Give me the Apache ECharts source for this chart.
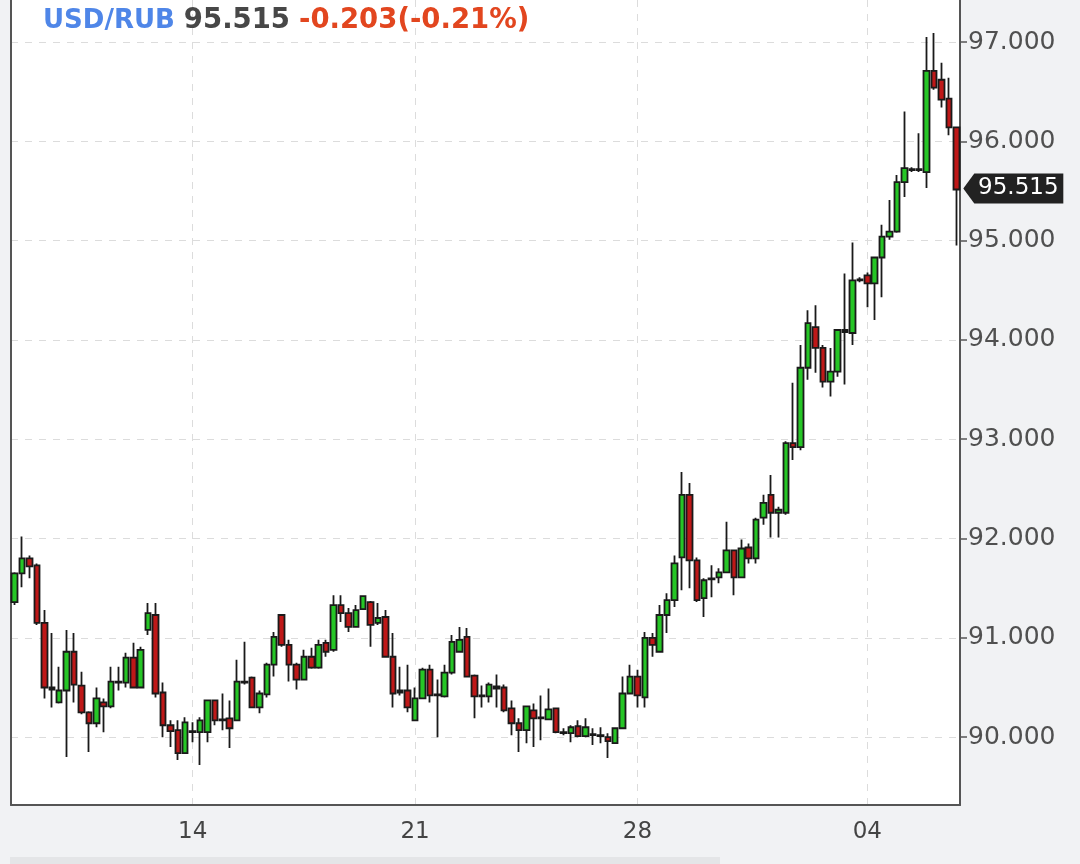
<!DOCTYPE html>
<html>
<head>
<meta charset="utf-8">
<title>USD/RUB</title>
<script src="https://cdn.jsdelivr.net/npm/echarts@6/dist/echarts.min.js"></script>
<style>
  html, body { margin: 0; padding: 0; background: #f1f2f4; }
  #chart { width: 1080px; height: 864px; }
</style>
</head>
<body>
<div id="chart"></div>
<script>
// 4h candles
const open = [91.36,91.65,91.80,91.73,91.15,90.50,90.35,90.47,90.86,90.52,
  90.25,90.14,90.35,90.31,90.56,90.55,90.80,90.50,91.08,91.23,
  90.45,90.12,90.07,89.84,90.06,90.05,90.05,90.37,90.17,90.19,
  90.17,90.56,90.60,90.30,90.43,90.73,91.23,90.93,90.73,90.58,
  90.81,90.70,90.95,90.88,91.33,91.25,91.11,91.29,91.36,91.15,
  91.21,90.81,90.45,90.47,90.17,90.39,90.68,90.42,90.41,90.65,
  90.86,91.01,90.62,90.41,90.41,90.51,90.50,90.29,90.14,90.07,
  90.27,90.19,90.18,90.29,90.05,90.04,90.11,90.01,90.03,90.02,
  90.00,89.94,90.09,90.44,90.61,90.40,91.00,90.86,91.23,91.38,
  91.81,92.44,91.78,91.40,91.59,91.61,91.66,91.88,91.61,91.91,
  91.80,92.21,92.44,92.26,92.26,92.96,92.92,93.72,94.13,93.92,
  93.58,93.68,94.10,94.07,94.60,94.65,94.57,94.83,95.04,95.09,
  95.59,95.72,95.71,95.69,96.71,96.62,96.43,96.14];
const close = [91.65,91.80,91.72,91.15,90.50,90.48,90.47,90.86,90.53,90.25,
  90.14,90.39,90.31,90.56,90.55,90.80,90.50,90.88,91.25,90.44,
  90.12,90.06,89.84,90.15,90.05,90.17,90.37,90.17,90.18,90.09,
  90.56,90.55,90.30,90.44,90.73,91.01,90.93,90.73,90.58,90.81,
  90.70,90.93,90.86,91.33,91.25,91.11,91.28,91.42,91.13,91.20,
  90.81,90.44,90.47,90.30,90.39,90.68,90.42,90.43,90.65,90.96,
  90.98,90.61,90.41,90.42,90.53,90.49,90.27,90.14,90.07,90.31,
  90.19,90.20,90.28,90.05,90.04,90.10,90.01,90.10,90.02,90.01,
  89.96,90.09,90.44,90.61,90.42,91.00,90.93,91.23,91.38,91.75,
  92.44,91.78,91.38,91.58,91.60,91.66,91.88,91.61,91.90,91.80,
  92.19,92.36,92.26,92.29,92.96,92.92,93.72,94.17,93.92,93.58,
  93.68,94.10,94.08,94.60,94.61,94.57,94.83,95.04,95.09,95.59,
  95.73,95.71,95.72,96.71,96.54,96.42,96.14,95.515];
const low = [91.33,91.51,91.60,91.13,90.39,90.30,90.34,89.80,90.35,90.23,
  89.85,90.10,90.05,90.29,90.47,90.50,90.49,90.49,91.03,90.40,
  90.00,89.90,89.77,89.84,89.95,89.72,89.95,90.12,90.07,89.89,
  90.17,90.53,90.29,90.24,90.40,90.61,90.91,90.56,90.48,90.57,
  90.69,90.69,90.81,90.86,91.16,91.06,91.11,91.28,90.91,91.13,
  90.80,90.30,90.42,90.25,90.17,90.39,90.35,90.00,90.40,90.63,
  90.85,90.61,90.19,90.30,90.35,90.30,90.25,90.02,89.85,89.94,
  89.90,89.97,90.17,90.04,90.02,89.95,90.00,90.00,89.92,89.94,
  89.79,89.94,90.09,90.44,90.30,90.30,90.81,90.85,91.05,91.31,
  91.48,91.50,91.36,91.21,91.41,91.55,91.66,91.43,91.60,91.75,
  91.75,92.14,92.01,92.01,92.24,92.79,92.89,93.60,93.67,93.52,
  93.43,93.63,93.55,93.95,94.58,94.33,94.20,94.43,95.01,95.08,
  95.44,95.69,95.69,95.53,96.52,96.34,96.06,94.95];
const high = [91.66,92.02,91.83,91.75,91.28,91.05,90.71,91.08,91.05,90.66,
  90.26,90.50,90.39,90.71,90.71,90.85,90.95,90.91,91.35,91.35,
  90.55,90.17,90.17,90.20,90.15,90.20,90.38,90.38,90.44,90.37,
  90.78,90.96,90.61,90.47,90.75,91.06,91.24,90.98,90.75,90.88,
  90.90,90.98,90.98,91.43,91.43,91.30,91.33,91.43,91.37,91.35,
  91.28,91.05,90.71,90.73,90.50,90.70,90.73,90.58,90.73,91.03,
  91.11,91.10,90.63,90.52,90.55,90.63,90.53,90.37,90.19,90.31,
  90.34,90.42,90.49,90.30,90.09,90.12,90.17,90.19,90.09,90.10,
  90.04,90.10,90.61,90.73,90.68,91.06,91.05,91.33,91.45,91.83,
  92.67,92.56,91.81,91.60,91.73,91.70,92.17,91.89,91.99,91.95,
  92.21,92.44,92.64,92.32,92.98,93.57,93.95,94.30,94.35,93.95,
  93.92,94.10,94.67,94.98,94.63,94.68,94.83,95.16,95.41,95.66,
  96.30,95.74,96.08,97.05,97.09,96.79,96.64,96.15];

// x labels sit on these candles
const dayIdx = [24, 54, 84, 115];
const dayText = ["14", "21", "28", "04"];

const yTicks = [90, 91, 92, 93, 94, 95, 96, 97];
const yMin = 89.317;
const yMax = 97.423;

const pair = "USD/RUB";
const lastPrice = 95.515;
const change = -0.203;
const changePct = -0.21;

const cats = open.map((_, i) => String(i));
const ohlc = open.map((o, i) => [o, close[i], low[i], high[i]]);
const isDay = (i) => dayIdx.indexOf(i) >= 0;

const dash = { color: "#dcdcdc", width: 1, type: [7, 7] };

let myChart = echarts.init(document.getElementById("chart"));

myChart.setOption({
  animation: false,
  backgroundColor: "#f1f2f4",
  title: {
    left: 38,
    top: 2,
    text:
      "{a|" + pair + "} {b|" + lastPrice.toFixed(3) + "} {c|" +
      change.toFixed(3) + "(" + changePct.toFixed(2) + "%)}",
    textStyle: {
      rich: {
        a: { color: "#4f86e8", fontSize: 26, fontWeight: "bold", fontFamily: "DejaVu Sans" },
        b: { color: "#474747", fontSize: 27.5, fontWeight: "bold", fontFamily: "DejaVu Sans", padding: [0, 0, 0, 4] },
        c: { color: "#e2461f", fontSize: 27.5, fontWeight: "bold", fontFamily: "DejaVu Sans", padding: [0, 0, 0, 4] },
      },
    },
  },
  grid: {
    left: 11,
    right: 120,
    top: 0,
    bottom: 59,
    show: true,
    backgroundColor: "#fff",
    borderWidth: 0,
  },
  xAxis: {
    type: "category",
    data: cats,
    boundaryGap: true,
    axisLine: { lineStyle: { color: "#555", width: 2 } },
    axisTick: {
      alignWithLabel: true,
      interval: (i) => isDay(i),
      length: 6,
      lineStyle: { color: "#555", width: 1.5 },
    },
    axisLabel: {
      interval: (i) => isDay(i),
      formatter: (v, i) => dayText[dayIdx.indexOf(i)] || "",
      color: "#444",
      fontSize: 23,
      fontFamily: "DejaVu Sans",
      margin: 16,
    },
    splitLine: {
      show: true,
      alignWithLabel: true,
      interval: (i) => isDay(i),
      lineStyle: dash,
    },
  },
  yAxis: [
    {
      type: "value",
      position: "right",
      min: yMin,
      max: yMax,
      splitNumber: 8,
      axisLine: { show: true, lineStyle: { color: "#555", width: 2 } },
      axisTick: {
        show: true,
        customValues: yTicks,
        length: 7,
        lineStyle: { color: "#555", width: 1.5 },
      },
      axisLabel: {
        customValues: yTicks,
        formatter: (v) => v.toFixed(3),
        color: "#505050",
        fontSize: 25,
        fontFamily: "DejaVu Sans",
        margin: 8,
      },
      splitLine: { show: true, lineStyle: dash },
    },
    {
      type: "value",
      position: "left",
      min: yMin,
      max: yMax,
      axisLine: { show: true, lineStyle: { color: "#555", width: 2 } },
      axisTick: { show: false },
      axisLabel: { show: false },
      splitLine: { show: false },
    },
  ],
  graphic: [
    {
      type: "rect",
      left: 10,
      top: 857,
      shape: { width: 710, height: 7 },
      style: { fill: "#e4e5e7" },
    },
  ],
  series: [
    {
      name: pair,
      type: "candlestick",
      yAxisIndex: 0,
      data: ohlc,
      barWidth: 6,
      itemStyle: {
        color: "#26c626",
        color0: "#bf1818",
        borderColor: "#1a1a1a",
        borderColor0: "#1a1a1a",
        borderColorDoji: "#1a1a1a",
        borderWidth: 1.8,
      },
      markPoint: {
        silent: true,
        symbol: "path://M0,15 L11,0 L100,0 L100,30 L11,30 Z",
        symbolSize: [100, 30],
        symbolOffset: [57, -1],
        itemStyle: { color: "#222" },
        label: {
          show: true,
          position: "inside",
          offset: [5, 0],
          color: "#fff",
          fontSize: 23,
          fontFamily: "DejaVu Sans",
          formatter: lastPrice.toFixed(3),
        },
        data: [{ coord: [cats[cats.length - 1], lastPrice] }],
      },
    },
  ],
});
</script>
</body>
</html>
